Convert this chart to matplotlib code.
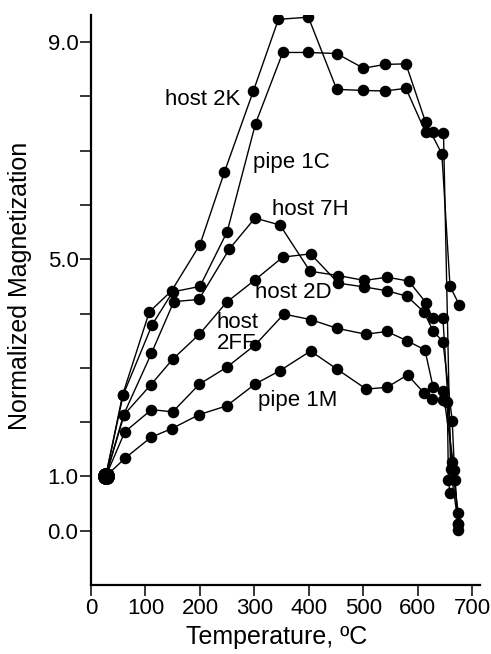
import matplotlib
matplotlib.use("Agg")
import matplotlib.pyplot as plt
from matplotlib.ticker import FixedLocator, FuncFormatter

plt.rcParams['font.family'] = ['Liberation Sans', 'DejaVu Sans']

# ---- data (temperature in C, normalized magnetization) ----
host2K_x = [27, 58, 107, 148, 200, 245, 298, 344, 399, 451, 500, 540, 578, 614, 628, 647, 660, 674]
host2K_y = [1.0, 2.50, 4.03, 4.42, 5.27, 6.61, 8.10, 9.42, 9.46, 8.13, 8.11, 8.10, 8.15, 7.34, 7.34, 7.33, 1.14, 0.13]

pipe1C_x = [27, 59, 112, 150, 200, 250, 302, 352, 399, 451, 500, 540, 578, 614, 644, 659, 676]
pipe1C_y = [1.0, 2.50, 3.79, 4.40, 4.50, 5.51, 7.50, 8.81, 8.81, 8.79, 8.52, 8.59, 8.60, 7.53, 6.94, 4.50, 4.16]

host7H_x = [27, 60, 111, 152, 198, 254, 301, 347, 402, 454, 502, 543, 583, 615, 627, 646, 662, 674]
host7H_y = [1.0, 2.14, 3.27, 4.22, 4.26, 5.19, 5.76, 5.63, 4.78, 4.70, 4.61, 4.67, 4.60, 4.20, 3.91, 3.91, 1.26, 0.33]

host2D_x = [27, 61, 110, 150, 199, 249, 301, 352, 403, 454, 502, 543, 580, 611, 628, 646, 663, 668, 674]
host2D_y = [1.0, 2.14, 2.69, 3.16, 3.62, 4.21, 4.62, 5.04, 5.10, 4.56, 4.49, 4.42, 4.32, 4.03, 3.68, 3.48, 2.02, 0.93, 0.02]

host2FF_x = [27, 62, 111, 150, 199, 249, 301, 354, 403, 451, 504, 543, 580, 613, 628, 646, 667, 674]
host2FF_y = [1.0, 1.82, 2.23, 2.19, 2.70, 3.01, 3.42, 3.99, 3.89, 3.73, 3.62, 3.67, 3.50, 3.33, 2.64, 2.58, 1.11, 0.13]

pipe1M_x = [27, 63, 110, 148, 199, 249, 301, 347, 403, 451, 505, 543, 581, 611, 625, 646, 654, 656, 659]
pipe1M_y = [1.0, 1.34, 1.72, 1.88, 2.14, 2.30, 2.70, 2.95, 3.31, 2.98, 2.61, 2.64, 2.87, 2.54, 2.43, 2.40, 2.38, 0.93, 0.69]

series = [
    (host2K_x, host2K_y),
    (pipe1C_x, pipe1C_y),
    (host7H_x, host7H_y),
    (host2D_x, host2D_y),
    (host2FF_x, host2FF_y),
    (pipe1M_x, pipe1M_y),
]

labels = ["host 2K", "pipe 1C", "host 7H", "host 2D", "host\n2FF", "pipe 1M"]
label_x = [136, 297, 332, 301, 231, 306]
label_y = [7.95, 6.78, 5.92, 4.39, 3.65, 2.39]

x_ticks = [0, 100, 200, 300, 400, 500, 600, 700]
y_ticks = [0, 1, 2, 3, 4, 5, 6, 7, 8, 9]
y_labeled = [0, 1, 5, 9]

fig = plt.figure(figsize=(4.91, 6.54), dpi=100)
ax = fig.add_axes([91 / 491, 1 - 585 / 654, (480 - 91) / 491, (585 - 15) / 654])

for xs, ys in series:
    ax.plot(xs, ys, color='black', lw=1.0, marker='o', ms=7.3, mfc='black', mec='black', zorder=3)
    ax.plot(xs[:1], ys[:1], 'o', color='black', ms=11, zorder=4)

for t, lx, ly in zip(labels, label_x, label_y):
    ax.text(lx, ly, t, fontsize=16, ha='left', va='center', linespacing=1.0)

ax.set_xlim(0, 714)
ax.set_ylim(-1.0, 9.5)
ax.xaxis.set_major_locator(FixedLocator(x_ticks))
ax.yaxis.set_major_locator(FixedLocator(y_ticks))
ax.yaxis.set_major_formatter(FuncFormatter(lambda v, p: f"{v:.1f}" if round(v) in y_labeled else ""))

for s in ['top', 'right']:
    ax.spines[s].set_visible(False)
for s in ['left', 'bottom']:
    ax.spines[s].set_linewidth(1.6)

ax.tick_params(axis='both', direction='out', length=8, width=1.1, labelsize=16, pad=1)
ax.set_xlabel("Temperature, ºC", fontsize=18)
ax.set_ylabel("Normalized Magnetization", fontsize=18)
ax.xaxis.set_label_coords(0.478, -0.07)
ax.yaxis.set_label_coords(-0.152, 0.525)

fig.savefig("out.png", dpi=100)
